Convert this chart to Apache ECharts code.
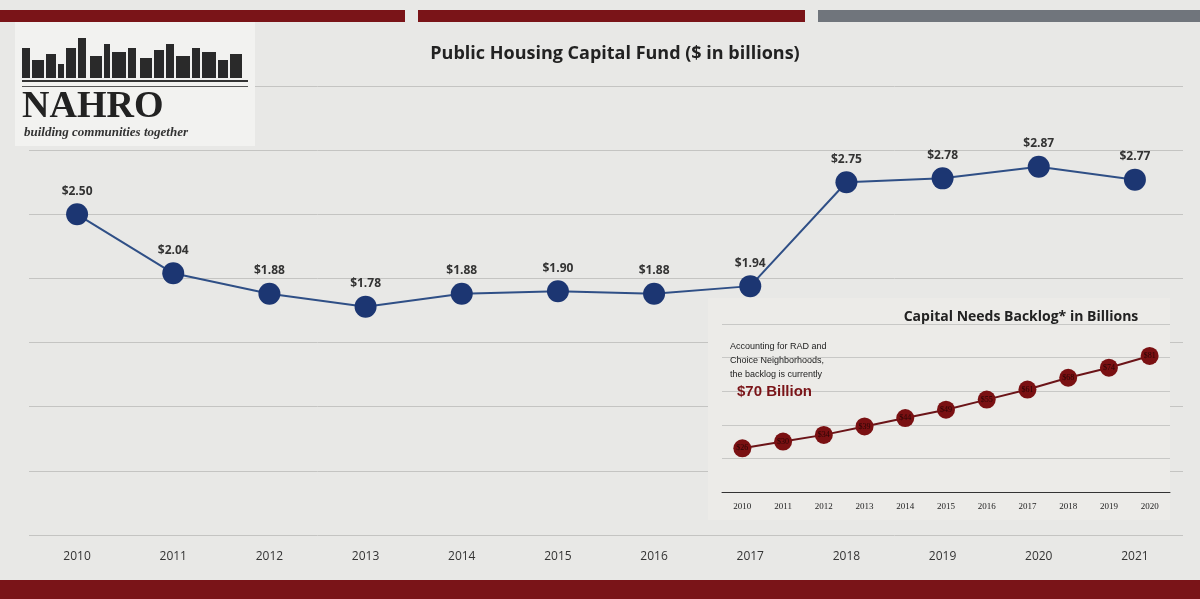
<!DOCTYPE html>
<html><head><meta charset="utf-8">
<script src="https://cdn.jsdelivr.net/npm/echarts@6/dist/echarts.min.js"></script>
<style>html,body{margin:0;padding:0;background:#e8e8e6}#c{width:1200px;height:599px}</style>
</head><body><div id="c"></div>
<script>
const years = ['2010','2011','2012','2013','2014','2015','2016','2017','2018','2019','2020','2021'];
const funding = [2.50, 2.04, 1.88, 1.78, 1.88, 1.90, 1.88, 1.94, 2.75, 2.78, 2.87, 2.77];
const backlogYears = ['2010','2011','2012','2013','2014','2015','2016','2017','2018','2019','2020'];
const backlog = [26, 30, 34, 39, 44, 49, 55, 61, 68, 74, 81];

const chart = echarts.init(document.getElementById('c'));

// simple skyline for the logo
const bldg = [[22,8,30],[32,12,18],[46,10,24],[58,6,14],[66,10,30],[78,8,40],[90,12,22],[104,6,34],[112,14,26],[128,8,30],[140,12,20],[154,10,28],[166,8,34],[176,14,22],[192,8,30],[202,14,26],[218,10,18],[230,12,24]];
const skyline = bldg.map(b => ({type:'rect', shape:{x:b[0], y:78-b[2], width:b[1], height:b[2]}, style:{fill:'#2a2a2a'}, z:3}));

chart.setOption({
  backgroundColor: '#e8e8e6',
  animation: false,
  title: [{
    text: 'Public Housing Capital Fund ($ in billions)',
    left: 610, top: 40, textAlign: 'center',
    textStyle: {fontFamily: 'Open Sans', fontSize: 18, fontWeight: 'bold', color: '#222'}
  }, {
    text: 'Capital Needs Backlog* in Billions',
    left: 1016, top: 305, textAlign: 'center', z: 10,
    textStyle: {fontFamily: 'Open Sans', fontSize: 14, fontWeight: 'bold', color: '#222'}
  }],
  graphic: [
    {type:'rect', shape:{x:0,y:10,width:405,height:12}, style:{fill:'#7a1418'}},
    {type:'rect', shape:{x:418,y:10,width:387,height:12}, style:{fill:'#7a1418'}},
    {type:'rect', shape:{x:818,y:10,width:382,height:12}, style:{fill:'#70757c'}},
    {type:'rect', shape:{x:0,y:580,width:1200,height:19}, style:{fill:'#7a1418'}},
    {type:'rect', shape:{x:15,y:22,width:240,height:124}, style:{fill:'#f2f2f0'}, z:2},
    ...skyline,
    {type:'rect', shape:{x:22,y:80,width:226,height:2}, style:{fill:'#333'}, z:3},
    {type:'rect', shape:{x:22,y:86,width:226,height:1}, style:{fill:'#555'}, z:3},
    {type:'text', left:22, top:88, z:3, style:{text:'NAHRO', fontFamily:'Liberation Serif', fontSize:38, fontWeight:'bold', fill:'#222'}},
    {type:'text', left:24, top:126, z:3, style:{text:'building communities together', fontFamily:'Liberation Serif', fontSize:13, fontStyle:'italic', fontWeight:'bold', fill:'#333'}},
    {type:'rect', shape:{x:708,y:298,width:462,height:222}, style:{fill:'#ecebe8'}, z:2},
    {type:'text', left:730, top:340, z:10, style:{text:'Accounting for RAD and\nChoice Neighborhoods,\nthe backlog is currently', fontFamily:'Liberation Sans', fontSize:9, lineHeight:14, fill:'#222'}},
    {type:'text', left:737, top:384, z:10, style:{text:'$70 Billion', fontFamily:'Liberation Sans', fontSize:15, fontWeight:'bold', fill:'#7a1418'}}
  ],
  grid: [
    {left: 29, right: 17, top: 86, bottom: 64},
    {left: 722, right: 30, top: 324, bottom: 107}
  ],
  xAxis: [{
    type: 'category', data: years, gridIndex: 0,
    axisLine: {show: false}, axisTick: {show: false},
    axisLabel: {margin: 16, fontFamily: 'Open Sans', fontSize: 12, color: '#333'}
  }, {
    type: 'category', data: backlogYears, gridIndex: 1, z: 5,
    axisLine: {lineStyle: {color: '#333'}}, axisTick: {show: false},
    axisLabel: {margin: 10, fontFamily: 'Liberation Serif', fontSize: 9, color: '#222'}
  }],
  yAxis: [{
    type: 'value', gridIndex: 0, min: 0, max: 3.5, interval: 0.5,
    axisLabel: {show: false}, axisLine: {show: false}, axisTick: {show: false},
    splitLine: {lineStyle: {color: '#c4c4c2'}}
  }, {
    type: 'value', gridIndex: 1, min: 0, max: 100, interval: 20, z: 5,
    axisLabel: {show: false}, axisLine: {show: false}, axisTick: {show: false},
    splitLine: {lineStyle: {color: '#c8c8c6'}}
  }],
  series: [{
    type: 'line', data: funding, xAxisIndex: 0, yAxisIndex: 0,
    symbol: 'circle', symbolSize: 22,
    lineStyle: {color: '#2f4f86', width: 2},
    itemStyle: {color: '#1c3672'},
    label: {show: true, position: 'top', distance: 6, formatter: p => '$' + p.value.toFixed(2),
      fontFamily: 'Open Sans', fontWeight: 'bold', fontSize: 12, color: '#333'}
  }, {
    type: 'line', data: backlog, xAxisIndex: 1, yAxisIndex: 1, z: 6,
    symbol: 'circle', symbolSize: 18,
    lineStyle: {color: '#6b1418', width: 2},
    itemStyle: {color: '#7a1012'},
    label: {show: true, position: 'inside', formatter: p => '$' + p.value,
      fontFamily: 'Liberation Serif', fontSize: 8, color: '#2a0505'}
  }]
});
</script></body></html>
